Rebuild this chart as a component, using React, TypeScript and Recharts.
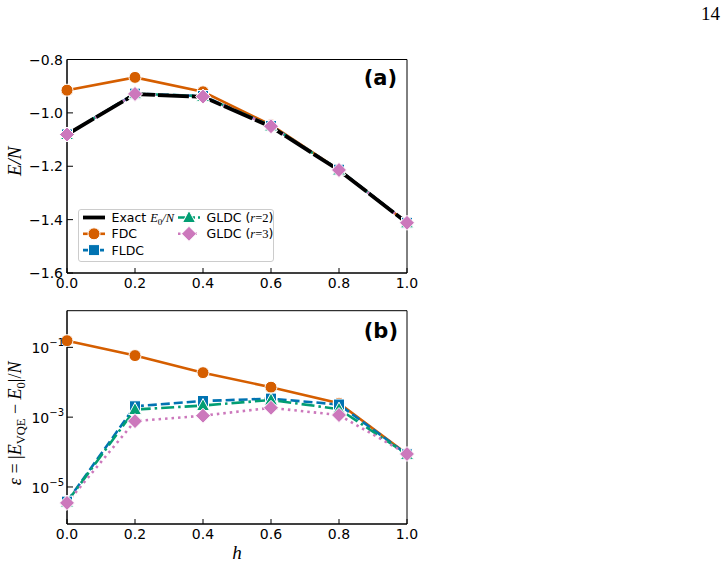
import React from "react";
import { LineChart, Line, XAxis, YAxis, Legend, Label, ReferenceArea } from "recharts";

// transverse field h
const hValues = [0, 0.2, 0.4, 0.6, 0.8, 1.0];

// energy per site, top panel
const exactEnergy = [-1.081, -0.93, -0.94, -1.052, -1.215, -1.412];
const fdcEnergy = [-0.915, -0.867, -0.921, -1.045, -1.213, -1.412];
const fldcEnergy = [-1.081, -0.928, -0.937, -1.049, -1.213, -1.412];
const gldc2Energy = [-1.081, -0.928, -0.938, -1.049, -1.214, -1.412];
const gldc3Energy = [-1.081, -0.929, -0.939, -1.05, -1.214, -1.412];

// relative error, bottom panel (log scale)
const fdcError = [0.155, 0.058, 0.0188, 0.0072, 0.0025, 8.8e-5];
const fldcError = [3.8e-6, 2.05e-3, 2.9e-3, 3.4e-3, 2.3e-3, 8.6e-5];
const gldc2Error = [3.7e-6, 1.65e-3, 2.15e-3, 3.1e-3, 1.7e-3, 8.6e-5];
const gldc3Error = [3.5e-6, 7.7e-4, 1.1e-3, 1.85e-3, 1.15e-3, 8.8e-5];

const energyTicks = [-1.6, -1.4, -1.2, -1.0, -0.8];
const errorTicks = [1e-5, 1e-3, 1e-1];

const ENERGY_DOMAIN: [number, number] = [-1.6, -0.8];
const ERROR_DOMAIN: [number, number] = [8.7e-7, 1.12];

const ORANGE = "#D55E00";
const BLUE = "#0173B2";
const GREEN = "#029E73";
const PINK = "#CC78BC";

const DASH_BLUE = "9 4";
const DASH_GREEN = "13 4 2.5 4";
const DASH_PINK = "2.5 4";
const LW = 2.6;

const SANS = "DejaVu Sans";
const SERIF = "Liberation Serif";

const energyRows = hValues.map((h, i) => ({
  h,
  exact: exactEnergy[i],
  fdc: fdcEnergy[i],
  fldc: fldcEnergy[i],
  gldc2: gldc2Energy[i],
  gldc3: gldc3Energy[i],
}));

const errorRows = hValues.map((h, i) => ({
  h,
  fdc: fdcError[i],
  fldc: fldcError[i],
  gldc2: gldc2Error[i],
  gldc3: gldc3Error[i],
}));

type Shape = "circle" | "square" | "triangle" | "diamond";

const drawMarker = (shape: Shape, color: string, cx: number, cy: number, key?: string) => {
  const common = { fill: color, stroke: "#fff", strokeWidth: 1 };
  if (shape === "circle") return <circle key={key} cx={cx} cy={cy} r={6} {...common} />;
  if (shape === "square")
    return <rect key={key} x={cx - 5.5} y={cy - 5.5} width={11} height={11} {...common} />;
  if (shape === "triangle")
    return (
      <polygon
        key={key}
        points={`${cx},${cy - 7} ${cx + 6.5},${cy + 5} ${cx - 6.5},${cy + 5}`}
        {...common}
      />
    );
  return (
    <polygon
      key={key}
      points={`${cx},${cy - 7.5} ${cx + 7.5},${cy} ${cx},${cy + 7.5} ${cx - 7.5},${cy}`}
      {...common}
    />
  );
};

const markerDot = (shape: Shape, color: string) => (props: any) => {
  const { cx, cy, index } = props;
  if (cx == null || cy == null) return <g key={`e-${index}`} />;
  return drawMarker(shape, color, cx, cy, `m-${shape}-${index}`);
};

const fmt = (v: number) => (v < 0 ? "\u2212" + Math.abs(v).toFixed(1) : v.toFixed(1));

const BottomTick = (props: any) => {
  const { x, y, payload } = props;
  return (
    <g>
      <line x1={x} y1={y} x2={x} y2={y - 5} stroke="#000" strokeWidth={1} />
      <text x={x} y={y + 15} textAnchor="middle" fontSize={14} fontFamily={SANS} fill="#000">
        {fmt(payload.value)}
      </text>
    </g>
  );
};

const LeftTick = (props: any) => {
  const { x, y, payload } = props;
  return (
    <g>
      <line x1={x} y1={y} x2={x + 6} y2={y} stroke="#000" strokeWidth={1} />
      <text x={x - 4} y={y + 5} textAnchor="end" fontSize={14} fontFamily={SANS} fill="#000">
        {fmt(payload.value)}
      </text>
    </g>
  );
};

const LogTick = (props: any) => {
  const { x, y, payload } = props;
  const exp = Math.round(Math.log10(payload.value));
  return (
    <g>
      <line x1={x} y1={y} x2={x + 6} y2={y} stroke="#000" strokeWidth={1} />
      <text x={x - 3} y={y + 6} textAnchor="end" fontSize={14} fontFamily={SANS} fill="#000">
        10
        <tspan fontSize={10} dy={-7}>
          {"\u2212" + Math.abs(exp)}
        </tspan>
      </text>
    </g>
  );
};

const EnergyTitle = (props: any) => {
  const { viewBox } = props;
  const cx = 21;
  const cy = viewBox.y + viewBox.height / 2 - 5;
  return (
    <text
      x={cx}
      y={cy}
      transform={`rotate(-90, ${cx}, ${cy})`}
      textAnchor="middle"
      fontSize={19}
      fontFamily={SERIF}
      fontStyle="italic"
      fill="#000"
    >
      E/N
    </text>
  );
};

const ErrorTitle = (props: any) => {
  const { viewBox } = props;
  const cx = 21;
  const cy = viewBox.y + viewBox.height / 2 + 6;
  return (
    <text
      x={cx}
      y={cy}
      transform={`rotate(-90, ${cx}, ${cy})`}
      textAnchor="middle"
      fontSize={18}
      fontFamily={SERIF}
      fill="#000"
    >
      <tspan fontStyle="italic">ε</tspan>
      <tspan>{" = |"}</tspan>
      <tspan fontStyle="italic">E</tspan>
      <tspan fontSize={12.5} dy={4}>
        VQE
      </tspan>
      <tspan dy={-4}>{" \u2212 "}</tspan>
      <tspan fontStyle="italic">E</tspan>
      <tspan fontSize={12.5} dy={4}>
        0
      </tspan>
      <tspan dy={-4}>|/</tspan>
      <tspan fontStyle="italic">N</tspan>
    </text>
  );
};

const HTitle = (props: any) => {
  const { viewBox } = props;
  return (
    <text
      x={viewBox.x + viewBox.width / 2}
      y={viewBox.y + 35}
      textAnchor="middle"
      fontSize={19}
      fontFamily={SERIF}
      fontStyle="italic"
      fill="#000"
    >
      h
    </text>
  );
};

const legendEntries = [
  { label: "exact", color: "#000", dash: "", width: 3.8, shape: null },
  { label: "FDC", color: ORANGE, dash: "", width: LW, shape: "circle" },
  { label: "FLDC", color: BLUE, dash: "5 3", width: LW, shape: "square" },
  { label: "gldc2", color: GREEN, dash: "7 3", width: LW, shape: "triangle" },
  { label: "gldc3", color: PINK, dash: "2.5 3", width: LW, shape: "diamond" },
];

const LegendLabel = ({ label }: { label: string }) => {
  if (label === "exact")
    return (
      <>
        Exact{" "}
        <tspan fontFamily={SERIF} fontStyle="italic">
          E
        </tspan>
        <tspan fontFamily={SERIF} fontSize={9} dy={3}>
          0
        </tspan>
        <tspan fontFamily={SERIF} fontStyle="italic" dy={-3}>
          /N
        </tspan>
      </>
    );
  if (label === "gldc2" || label === "gldc3")
    return (
      <>
        {"GLDC ("}
        <tspan fontFamily={SERIF} fontStyle="italic">
          r
        </tspan>
        <tspan fontFamily={SERIF}>{"=" + (label === "gldc2" ? "2" : "3")}</tspan>)
      </>
    );
  return <>{label}</>;
};

const EnergyLegend = () => (
  <svg width={196} height={53} style={{ display: "block" }}>
    <rect x={0.5} y={0.5} width={195} height={52} rx={2.5} fill="rgba(255,255,255,0.85)" stroke="#cccccc" />
    {legendEntries.map((e, i) => {
      const col = i < 3 ? 0 : 1;
      const row = i < 3 ? i : i - 3;
      const x0 = col === 0 ? 5 : 100;
      const y0 = 8.5 + row * 16.3;
      return (
        <g key={e.label}>
          <line
            x1={x0}
            y1={y0}
            x2={x0 + 22}
            y2={y0}
            stroke={e.color}
            strokeWidth={e.width}
            strokeDasharray={e.dash || undefined}
          />
          {e.shape ? drawMarker(e.shape as Shape, e.color, x0 + 11, y0) : null}
          <text x={x0 + 28.5} y={y0 + 4.5} fontSize={12.5} fontFamily={SANS} fill="#000">
            <LegendLabel label={e.label} />
          </text>
        </g>
      );
    })}
  </svg>
);

const App: React.FC = () => {
  return (
    <div style={{ position: "absolute", left: 0, top: 0, width: 726, height: 568, background: "#fff" }}>
      <svg width={726} height={30} style={{ position: "absolute", left: 0, top: 0 }}>
        <text x={720} y={20} textAnchor="end" fontSize={19} fontFamily={SERIF} fill="#000">
          14
        </text>
      </svg>

      {/* (a) energy per site */}
      <div style={{ position: "absolute", left: 0, top: 0 }}>
        <LineChart width={420} height={300} data={energyRows} margin={{ top: 59.5, right: 13, bottom: 0, left: 0 }}>
          <XAxis
            dataKey="h"
            type="number"
            domain={[0, 1]}
            ticks={hValues}
            height={27}
            tickSize={0}
            tickMargin={0}
            tickLine={false}
            axisLine={{ stroke: "#000", strokeWidth: 1 }}
            tick={<BottomTick />}
          />
          <YAxis
            type="number"
            domain={ENERGY_DOMAIN}
            ticks={energyTicks}
            width={67}
            tickSize={0}
            tickMargin={0}
            tickLine={false}
            axisLine={{ stroke: "#000", strokeWidth: 1 }}
            tick={<LeftTick />}
          >
            <Label content={<EnergyTitle />} />
          </YAxis>
          {/* plot frame */}
          <ReferenceArea
            x1={0}
            x2={1}
            y1={ENERGY_DOMAIN[0]}
            y2={ENERGY_DOMAIN[1]}
            fill="none"
            fillOpacity={0}
            stroke="#000"
            strokeWidth={1}
            ifOverflow="visible"
          />
          <Legend
            verticalAlign="middle"
            align="center"
            content={() => <EnergyLegend />}
            wrapperStyle={{ position: "absolute", left: 78, top: 209, width: 196, height: 53 }}
          />
          {/* line bodies below the exact curve */}
          <Line dataKey="fdc" stroke={ORANGE} strokeWidth={LW} dot={false} isAnimationActive={false} />
          <Line dataKey="fldc" stroke={BLUE} strokeWidth={LW} strokeDasharray={DASH_BLUE} dot={false} isAnimationActive={false} />
          <Line dataKey="gldc2" stroke={GREEN} strokeWidth={LW} strokeDasharray={DASH_GREEN} dot={false} isAnimationActive={false} />
          <Line dataKey="gldc3" stroke={PINK} strokeWidth={LW} strokeDasharray={DASH_PINK} dot={false} isAnimationActive={false} />
          <Line dataKey="exact" stroke="#000" strokeWidth={3.8} strokeDasharray="31 3" dot={false} isAnimationActive={false} />
          {/* markers on top */}
          <Line dataKey="fdc" stroke="none" dot={markerDot("circle", ORANGE)} isAnimationActive={false} />
          <Line dataKey="fldc" stroke="none" dot={markerDot("square", BLUE)} isAnimationActive={false} />
          <Line dataKey="gldc2" stroke="none" dot={markerDot("triangle", GREEN)} isAnimationActive={false} />
          <Line dataKey="gldc3" stroke="none" dot={markerDot("diamond", PINK)} isAnimationActive={false} />
          <text x={397} y={85} textAnchor="end" fontSize={21} fontWeight="bold" fontFamily={SANS} fill="#000">
            (a)
          </text>
        </LineChart>
      </div>

      {/* (b) relative error */}
      <div style={{ position: "absolute", left: 0, top: 290 }}>
        <LineChart width={420} height={278} data={errorRows} margin={{ top: 20.7, right: 13, bottom: 10, left: 0 }}>
          <XAxis
            dataKey="h"
            type="number"
            domain={[0, 1]}
            ticks={hValues}
            height={34}
            tickSize={0}
            tickMargin={0}
            tickLine={false}
            axisLine={{ stroke: "#000", strokeWidth: 1 }}
            tick={<BottomTick />}
          >
            <Label content={<HTitle />} />
          </XAxis>
          <YAxis
            type="number"
            scale="log"
            domain={ERROR_DOMAIN}
            allowDataOverflow
            ticks={errorTicks}
            width={67}
            tickSize={0}
            tickMargin={0}
            tickLine={false}
            axisLine={{ stroke: "#000", strokeWidth: 1 }}
            tick={<LogTick />}
          >
            <Label content={<ErrorTitle />} />
          </YAxis>
          <ReferenceArea
            x1={0}
            x2={1}
            y1={ERROR_DOMAIN[0]}
            y2={ERROR_DOMAIN[1]}
            fill="none"
            fillOpacity={0}
            stroke="#000"
            strokeWidth={1}
            ifOverflow="visible"
          />
          <Line dataKey="fdc" stroke={ORANGE} strokeWidth={LW} dot={markerDot("circle", ORANGE)} isAnimationActive={false} />
          <Line dataKey="fldc" stroke={BLUE} strokeWidth={LW} strokeDasharray={DASH_BLUE} dot={markerDot("square", BLUE)} isAnimationActive={false} />
          <Line dataKey="gldc2" stroke={GREEN} strokeWidth={LW} strokeDasharray={DASH_GREEN} dot={markerDot("triangle", GREEN)} isAnimationActive={false} />
          <Line dataKey="gldc3" stroke={PINK} strokeWidth={LW} strokeDasharray={DASH_PINK} dot={markerDot("diamond", PINK)} isAnimationActive={false} />
          <text x={398} y={48} textAnchor="end" fontSize={21} fontWeight="bold" fontFamily={SANS} fill="#000">
            (b)
          </text>
        </LineChart>
      </div>
    </div>
  );
};

export default App;
